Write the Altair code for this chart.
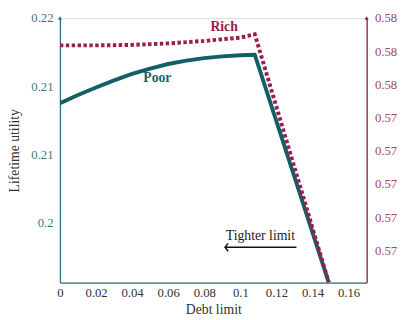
import altair as alt
import pandas as pd

# --- data ---
poor_x = [0.0, 0.01, 0.02, 0.03, 0.04, 0.05, 0.06, 0.07, 0.08, 0.09, 0.10, 0.108, 0.149]
poor_y = [0.21376, 0.21436, 0.21491, 0.21543, 0.21591, 0.21630, 0.21663, 0.21688,
          0.21706, 0.21719, 0.21727, 0.21731, 0.20063]
rich_x = [0.0, 0.02, 0.04, 0.06, 0.08, 0.10, 0.108, 0.149]
rich_y = [0.57835, 0.57835, 0.57838, 0.57847, 0.57862, 0.57882, 0.57902, 0.56407]

x_ticks = [0, 0.02, 0.04, 0.06, 0.08, 0.10, 0.12, 0.14, 0.16]
left_ticks = [0.205, 0.21, 0.215, 0.22]
right_ticks = [0.566, 0.568, 0.570, 0.572, 0.574, 0.576, 0.578, 0.58]

x_dom = [0, 0.17]
left_dom = [0.20063, 0.22]
right_dom = [0.56407, 0.58]

TEAL = "#135f67"
CRIM = "#9c1c4c"
FONT = "Liberation Serif"

poor_df = pd.DataFrame({"x": poor_x, "y": poor_y})
rich_df = pd.DataFrame({"x": rich_x, "y": rich_y})

xaxis = alt.Axis(values=x_ticks, labelExpr="format(datum.value, '~g')", title="Debt limit",
                 grid=False, ticks=False, domainColor="#3f6b70", domainWidth=1.3,
                 labelColor="#333333", labelFont=FONT, labelFontSize=13, labelPadding=4,
                 titleFont=FONT, titleFontSize=14, titleFontWeight="normal",
                 titleColor="#333333", titlePadding=4, labelFlush=False)
laxis = alt.Axis(values=left_ticks, labelExpr="format(datum.value, '.2~f')",
                 title="Lifetime utility", grid=False, ticks=False, domainColor="#2b6f77",
                 domainWidth=1.3, labelColor="#3b7a82", labelFont=FONT, labelFontSize=13,
                 labelPadding=7, titleFont=FONT, titleFontSize=14, titleFontWeight="normal",
                 titleColor="#333333", titlePadding=10)
raxis = alt.Axis(values=right_ticks, labelExpr="format(datum.value, '.2~f')", title=None,
                 orient="right", grid=False, ticks=False, domainColor="#8c1d48",
                 domainWidth=1.3, labelColor="#a84468", labelFont=FONT, labelFontSize=13,
                 labelPadding=8)

xs = alt.Scale(domain=x_dom, nice=False, zero=False)
ls = alt.Scale(domain=left_dom, nice=False, zero=False)
rs = alt.Scale(domain=right_dom, nice=False, zero=False)

def X(f=None, d=None):
    if f is not None:
        return alt.X(f, type="quantitative", scale=xs, axis=xaxis)
    return alt.X(datum=d, type="quantitative", scale=xs, axis=xaxis)

def YL(f=None, d=None):
    if f is not None:
        return alt.Y(f, type="quantitative", scale=ls, axis=laxis)
    return alt.Y(datum=d, type="quantitative", scale=ls, axis=laxis)

def YR(f=None, d=None):
    if f is not None:
        return alt.Y(f, type="quantitative", scale=rs, axis=raxis)
    return alt.Y(datum=d, type="quantitative", scale=rs, axis=raxis)

poor_line = alt.Chart(poor_df).mark_line(color=TEAL, strokeWidth=4, clip=True).encode(
    x=X("x"), y=YL("y"))
poor_text = alt.Chart().mark_text(text="Poor", font=FONT, fontSize=14, fontWeight="bold",
                                  color="#1d5f66").encode(x=X(d=0.054), y=YL(d=0.21562))
tight_text = alt.Chart().mark_text(text="Tighter limit", font=FONT, fontSize=14,
                                   color="#222222").encode(x=X(d=0.1111), y=YL(d=0.20407))
tight_rule = alt.Chart().mark_rule(color="#111111", strokeWidth=1.5).encode(
    x=X(d=0.0915), x2=alt.X2(datum=0.1311), y=YL(d=0.20321))
tight_head = alt.Chart().mark_point(shape="M 0.8 -1 L 0 0 L 0.8 1", size=64, filled=False,
                                    color="#111111", strokeWidth=1.5, opacity=1).encode(
    x=X(d=0.0915), y=YL(d=0.20321))
left_arrow = alt.Chart().mark_point(shape="triangle-up", size=18, filled=True,
                                    color="#2b6f77", opacity=1, clip=False).encode(
    x=X(d=0), y=YL(d=0.22))

left = alt.layer(poor_line, poor_text, tight_text, tight_rule, tight_head, left_arrow)

rich_line = alt.Chart(rich_df).mark_line(color=CRIM, strokeWidth=4, strokeDash=[3.5, 2.5],
                                         clip=True).encode(x=X("x"), y=YR("y"))
rich_text = alt.Chart().mark_text(text="Rich", font=FONT, fontSize=14, fontWeight="bold",
                                  color=CRIM).encode(x=X(d=0.091), y=YR(d=0.57947))
right_arrow = alt.Chart().mark_point(shape="triangle-up", size=18, filled=True,
                                     color="#8c1d48", opacity=1, clip=False).encode(
    x=X(d=0.17), y=YR(d=0.58))

right = alt.layer(rich_line, rich_text, right_arrow)

chart = alt.layer(left, right).resolve_scale(y="independent").properties(
    width=313, height=270,
    autosize=alt.AutoSizeParams(type="none"),
    padding={"left": 53, "top": 7, "right": 32, "bottom": 35},
).configure_view(stroke=None).configure(background="white")

chart.save("out.html", embed_options={"renderer": "svg", "actions": False})
